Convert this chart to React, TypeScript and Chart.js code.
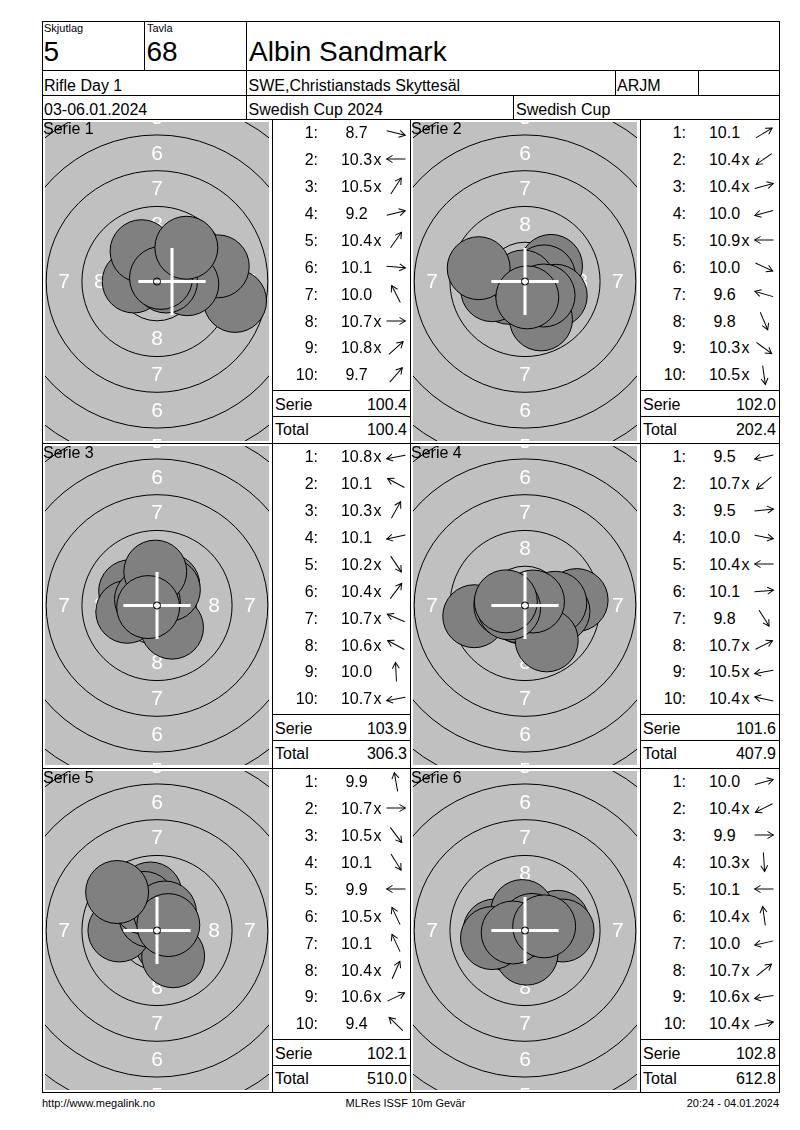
import React, { useEffect, useRef } from 'react';
import { Chart, registerables } from 'chart.js';

Chart.register(...registerables);

// ---------- header / footer texts ----------
const relayLabel = 'Skjutlag';
const relayValue = '5';
const laneLabel = 'Tavla';
const laneValue = '68';
const shooterName = 'Albin Sandmark';
const eventName = 'Rifle Day 1';
const clubName = 'SWE,Christianstads Skyttesäl';
const className = 'ARJM';
const dateText = '03-06.01.2024';
const competitionName = 'Swedish Cup 2024';
const cupName = 'Swedish Cup';
const footerLeft = 'http://www.megalink.no';
const footerCenter = 'MLRes ISSF 10m Gevär';
const footerRight = '20:24 - 04.01.2024';

// ---------- series data ----------
const seriesNames = ['Serie 1', 'Serie 2', 'Serie 3', 'Serie 4', 'Serie 5', 'Serie 6'];
const serieSums = [100.4, 102.0, 103.9, 101.6, 102.1, 102.8];
const runningTotals = [100.4, 202.4, 306.3, 407.9, 510.0, 612.8];

const scores1 = [8.7, 10.3, 10.5, 9.2, 10.4, 10.1, 10.0, 10.7, 10.8, 9.7];
const inner1 = [0, 1, 1, 0, 1, 0, 0, 1, 1, 0];
const shotX1 = [5.46, -1.63, 0.61, 4.25, 0.79, 2.12, -1.08, 0.63, 0.28, 2.05];
const shotY1 = [-1.36, 0.0, 0.94, 1.06, 1.13, -0.19, 2.12, 0.0, 0.25, 2.36];

const scores2 = [10.1, 10.4, 10.4, 10.0, 10.9, 10.0, 9.6, 9.8, 10.3, 10.5];
const inner2 = [0, 1, 1, 0, 1, 0, 0, 0, 1, 1];
const shotX2 = [1.82, -1.13, 1.33, -2.29, -0.13, 2.15, -3.24, 1.12, 1.3, 0.16];
const shotY2 = [1.09, -0.79, 0.36, -0.61, 0.0, -1.0, 0.93, -2.65, -0.98, -1.11];

const scores3 = [10.8, 10.1, 10.3, 10.1, 10.2, 10.4, 10.7, 10.6, 10.0, 10.7];
const inner3 = [1, 0, 1, 0, 1, 1, 1, 1, 0, 1];
const shotX3 = [-0.37, -1.88, 0.79, -2.08, 1.05, 0.83, -0.57, -0.77, -0.12, -0.62];
const shotY3 = [-0.07, 1.0, 1.42, -0.44, -1.55, 1.1, 0.25, 0.41, 2.37, -0.11];

const scores4 = [9.5, 10.7, 9.5, 10.0, 10.4, 10.1, 9.8, 10.7, 10.5, 10.4];
const inner4 = [0, 1, 0, 0, 1, 0, 0, 1, 1, 1];
const shotX4 = [-3.55, -0.48, 3.61, 2.34, -1.38, 2.12, 1.52, 0.56, -1.11, -1.34];
const shotY4 = [-0.75, -0.4, 0.38, -0.41, 0.0, 0.19, -2.44, 0.28, -0.2, 0.29];

const scores5 = [9.9, 10.7, 10.5, 10.1, 9.9, 10.5, 10.1, 10.4, 10.6, 9.4];
const inner5 = [0, 1, 1, 0, 0, 1, 0, 1, 1, 0];
const shotX5 = [-0.46, 0.63, 0.68, 1.13, -2.63, -0.48, -0.9, 0.56, 0.79, -2.79];
const shotY5 = [2.59, 0.0, -0.9, -1.8, 0.0, 1.02, 1.93, 1.26, 0.38, 2.69];

const scores6 = [10.0, 10.4, 9.9, 10.3, 10.1, 10.4, 10.0, 10.7, 10.6, 10.4];
const inner6 = [0, 1, 0, 1, 0, 1, 0, 1, 1, 1];
const shotX6 = [2.29, -1.23, 2.63, 0.11, -2.13, -0.19, -2.31, 0.49, -0.86, 1.34];
const shotY6 = [0.61, -0.62, 0.0, -1.62, 0.0, 1.36, -0.53, 0.39, -0.14, 0.29];

// group cross position (mm) per series
const crossX = [1.05, 0, 0, 0, 0, 0];
const crossY = [0, 0, 0, 0, 0, 0];

// target face: outer radii (mm) of rings 1..9 and the ring numbers
const ringValues = [1, 2, 3, 4, 5, 6, 7, 8, 9];
const ringRadiiMm = [22.75, 20.25, 17.75, 15.25, 12.75, 10.25, 7.75, 5.25, 2.75];
const tenRingRadiusMm = 0.25;

const allScores = [scores1, scores2, scores3, scores4, scores5, scores6];
const allInner = [inner1, inner2, inner3, inner4, inner5, inner6];
const allX = [shotX1, shotX2, shotX3, shotX4, shotX5, shotX6];
const allY = [shotY1, shotY2, shotY3, shotY4, shotY5, shotY6];

// ---------- styling / layout constants ----------
const FONT = '"Liberation Sans", Arial, Helvetica, sans-serif';
const PX_PER_MM = 14.3;
const SHOT_RADIUS_MM = 2.2;
const CROSS_RADIUS_MM = 2.35;
const CANVAS_W = 224;
const CANVAS_H = 319;
const PANEL_TOPS = [119, 443, 768];
const TARGET_LEFTS = [42, 410];
const LIST_LEFTS = [272, 640];
const LIST_RIGHTS = [410, 779];
const ROW_STEP = 26.9;

const mmToPx = (mm: number) => (ctx: any) => {
  const s = ctx.chart.scales.x;
  if (!s) return mm * PX_PER_MM;
  return Math.abs(s.getPixelForValue(mm) - s.getPixelForValue(0));
};

const targetFacePlugin = {
  id: 'targetFace',
  beforeDatasetsDraw(chart: any) {
    const { ctx, chartArea: a, scales } = chart;
    const xs = scales.x;
    const ys = scales.y;
    const cx = xs.getPixelForValue(0);
    const cy = ys.getPixelForValue(0);
    const k = Math.abs(xs.getPixelForValue(1) - cx);
    ctx.save();
    ctx.fillStyle = '#c0c0c0';
    ctx.fillRect(a.left, a.top, a.right - a.left, a.bottom - a.top);
    ctx.beginPath();
    ctx.rect(a.left, a.top, a.right - a.left, a.bottom - a.top);
    ctx.clip();
    ctx.strokeStyle = '#000';
    ctx.lineWidth = 1;
    ringRadiiMm.forEach((r) => {
      ctx.beginPath();
      ctx.arc(cx, cy, r * k, 0, Math.PI * 2);
      ctx.stroke();
    });
    ctx.fillStyle = '#ffffff';
    ctx.font = `21px ${FONT}`;
    ctx.textAlign = 'center';
    ctx.textBaseline = 'middle';
    for (let i = 0; i < ringValues.length - 1; i++) {
      const rm = ((ringRadiiMm[i] + ringRadiiMm[i + 1]) / 2) * k;
      const t = String(ringValues[i]);
      ctx.fillText(t, cx, cy - rm + 1);
      ctx.fillText(t, cx, cy + rm + 1);
      ctx.fillText(t, cx - rm, cy + 1);
      ctx.fillText(t, cx + rm, cy + 1);
    }
    ctx.restore();
  },
};

function Target({ idx, left, top }: { idx: number; left: number; top: number }) {
  const ref = useRef<HTMLCanvasElement>(null);
  useEffect(() => {
    const canvas = ref.current;
    if (!canvas) return;
    const hx = CANVAS_W / 2 / PX_PER_MM;
    const hy = CANVAS_H / 2 / PX_PER_MM;
    const shots = allX[idx].map((x, i) => ({ x, y: allY[idx][i] }));
    const chart = new Chart(canvas, {
      type: 'scatter',
      data: {
        datasets: [
          {
            label: 'ten',
            data: [{ x: 0, y: 0 }],
            pointStyle: 'circle',
            pointRadius: mmToPx(tenRingRadiusMm),
            backgroundColor: 'rgba(0,0,0,0)',
            pointBackgroundColor: 'rgba(0,0,0,0)',
            borderColor: '#000',
            pointBorderColor: '#000',
            pointBorderWidth: 1,
            order: 1,
          },
          {
            label: 'cross',
            data: [{ x: crossX[idx], y: crossY[idx] }],
            pointStyle: 'cross',
            pointRadius: mmToPx(CROSS_RADIUS_MM),
            borderColor: '#fff',
            pointBorderColor: '#fff',
            pointBorderWidth: 3,
            order: 2,
          },
          {
            label: 'shots',
            data: shots,
            pointStyle: 'circle',
            pointRadius: mmToPx(SHOT_RADIUS_MM),
            backgroundColor: '#808080',
            pointBackgroundColor: '#808080',
            borderColor: '#000',
            pointBorderColor: '#000',
            pointBorderWidth: 1,
            order: 3,
          },
        ],
      } as any,
      options: {
        animation: false,
        responsive: false,
        maintainAspectRatio: false,
        events: [],
        layout: { padding: 0 },
        scales: {
          x: { type: 'linear', min: -hx, max: hx, display: false },
          y: { type: 'linear', min: -hy, max: hy, display: false },
        },
        plugins: { legend: { display: false }, tooltip: { enabled: false } },
      } as any,
      plugins: [targetFacePlugin],
    });
    return () => chart.destroy();
  }, [idx]);
  return (
    <canvas
      ref={ref}
      width={CANVAS_W}
      height={CANVAS_H}
      style={{ position: 'absolute', left, top, width: CANVAS_W, height: CANVAS_H }}
    />
  );
}

type TxtProps = {
  x: number;
  y: number;
  size: number;
  align?: 'left' | 'right' | 'center';
  children: React.ReactNode;
  style?: React.CSSProperties;
};

function Txt({ x, y, size, align = 'left', children, style }: TxtProps) {
  const s: React.CSSProperties = {
    position: 'absolute',
    top: y,
    fontSize: size,
    lineHeight: `${size}px`,
    whiteSpace: 'nowrap',
    color: '#000',
    ...style,
  };
  if (align === 'left') s.left = x;
  else if (align === 'right') s.right = 800 - x;
  else {
    s.left = x - 150;
    s.width = 300;
    s.textAlign = 'center';
  }
  return <div style={s}>{children}</div>;
}

function HLine({ x1, x2, y }: { x1: number; x2: number; y: number }) {
  return <div style={{ position: 'absolute', left: x1, top: y, width: x2 - x1 + 1, height: 1, background: '#000' }} />;
}
function VLine({ x, y1, y2 }: { x: number; y1: number; y2: number }) {
  return <div style={{ position: 'absolute', left: x, top: y1, width: 1, height: y2 - y1 + 1, background: '#000' }} />;
}

// direction arrow of a shot, pointing from the centre towards the shot
function ShotArrow({ cx, cy, deg }: { cx: number; cy: number; deg: number }) {
  return (
    <svg
      width={26}
      height={26}
      style={{ position: 'absolute', left: cx - 13, top: cy - 13, overflow: 'visible' }}
    >
      <g transform={`translate(13,13) rotate(${-deg})`} stroke="#000" strokeWidth={1} fill="none">
        <line x1={-9.5} y1={0} x2={9.5} y2={0} />
        <polyline points="3.5,-3.5 9.5,0 3.5,3.5" />
      </g>
    </svg>
  );
}

function ScoreList({ idx }: { idx: number }) {
  const row = Math.floor(idx / 2);
  const col = idx % 2;
  const pt = PANEL_TOPS[row];
  const L = LIST_LEFTS[col];
  const R = LIST_RIGHTS[col];
  const items: React.ReactNode[] = [];
  allScores[idx].forEach((sc, i) => {
    const c = pt + 14 + ROW_STEP * i;
    const top = c - 7.8;
    const deg = (Math.atan2(allY[idx][i], allX[idx][i]) * 180) / Math.PI;
    items.push(
      <Txt key={`n${i}`} x={L + 46} y={top} size={16} align="right">{`${i + 1}:`}</Txt>,
      <div
        key={`s${i}`}
        style={{
          position: 'absolute', left: L + 64.5, top, width: 40, textAlign: 'center',
          fontSize: 16, lineHeight: '16px', whiteSpace: 'nowrap',
        }}
      >
        {sc.toFixed(1)}
      </div>,
    );
    if (allInner[idx][i]) {
      items.push(<Txt key={`x${i}`} x={L + 101.5} y={top} size={16}>x</Txt>);
    }
    items.push(<ShotArrow key={`a${i}`} cx={L + 124} cy={c - 0.5} deg={deg} />);
  });
  return (
    <>
      {items}
      <HLine x1={L} x2={R} y={pt + 271} />
      <HLine x1={L} x2={R} y={pt + 297} />
      <Txt x={L + 3} y={pt + 277.5} size={16}>Serie</Txt>
      <Txt x={R - 3} y={pt + 277.5} size={16} align="right">{serieSums[idx].toFixed(1)}</Txt>
      <Txt x={L + 3} y={pt + 303} size={16}>Total</Txt>
      <Txt x={R - 3} y={pt + 303} size={16} align="right">{runningTotals[idx].toFixed(1)}</Txt>
    </>
  );
}

export default function App() {
  const panels = seriesNames.map((_, idx) => {
    const row = Math.floor(idx / 2);
    const col = idx % 2;
    return (
      <Target key={`t${idx}`} idx={idx} left={TARGET_LEFTS[col] + 3} top={PANEL_TOPS[row] + 3} />
    );
  });
  const bottom = 1092;
  return (
    <div
      style={{
        position: 'absolute', left: 0, top: 0, width: 800, height: 1130,
        background: '#fff', fontFamily: FONT, color: '#000', overflow: 'hidden',
      }}
    >
      {panels}
      {/* grid lines */}
      <HLine x1={42} x2={779} y={21} />
      <HLine x1={42} x2={779} y={70} />
      <HLine x1={42} x2={779} y={95} />
      <HLine x1={42} x2={779} y={PANEL_TOPS[0]} />
      <HLine x1={42} x2={779} y={PANEL_TOPS[1]} />
      <HLine x1={42} x2={779} y={PANEL_TOPS[2]} />
      <HLine x1={42} x2={779} y={bottom} />
      <VLine x={42} y1={21} y2={bottom} />
      <VLine x={779} y1={21} y2={bottom} />
      <VLine x={144} y1={21} y2={70} />
      <VLine x={246} y1={21} y2={PANEL_TOPS[0]} />
      <VLine x={615} y1={70} y2={95} />
      <VLine x={698} y1={70} y2={95} />
      <VLine x={513} y1={95} y2={PANEL_TOPS[0]} />
      <VLine x={272} y1={PANEL_TOPS[0]} y2={bottom} />
      <VLine x={410} y1={PANEL_TOPS[0]} y2={bottom} />
      <VLine x={640} y1={PANEL_TOPS[0]} y2={bottom} />

      {/* header */}
      <Txt x={44} y={23} size={11}>{relayLabel}</Txt>
      <Txt x={147} y={23} size={11}>{laneLabel}</Txt>
      <Txt x={43.5} y={38} size={28}>{relayValue}</Txt>
      <Txt x={146.5} y={38} size={28}>{laneValue}</Txt>
      <Txt x={249} y={38} size={28}>{shooterName}</Txt>
      <Txt x={44} y={78} size={16}>{eventName}</Txt>
      <Txt x={248.5} y={78} size={16}>{clubName}</Txt>
      <Txt x={617} y={78} size={16}>{className}</Txt>
      <Txt x={44} y={101.5} size={16}>{dateText}</Txt>
      <Txt x={248.5} y={101.5} size={16}>{competitionName}</Txt>
      <Txt x={516} y={101.5} size={16}>{cupName}</Txt>

      {/* series labels and score lists */}
      {seriesNames.map((name, idx) => {
        const row = Math.floor(idx / 2);
        const col = idx % 2;
        return (
          <Txt key={`l${idx}`} x={TARGET_LEFTS[col] + 1} y={PANEL_TOPS[row] + 2} size={16}>
            {name}
          </Txt>
        );
      })}
      {seriesNames.map((_, idx) => (
        <ScoreList key={`sl${idx}`} idx={idx} />
      ))}

      {/* footer */}
      <Txt x={42} y={1098} size={11}>{footerLeft}</Txt>
      <Txt x={405.5} y={1098} size={11} align="center">{footerCenter}</Txt>
      <Txt x={779} y={1098} size={11} align="right">{footerRight}</Txt>
    </div>
  );
}
